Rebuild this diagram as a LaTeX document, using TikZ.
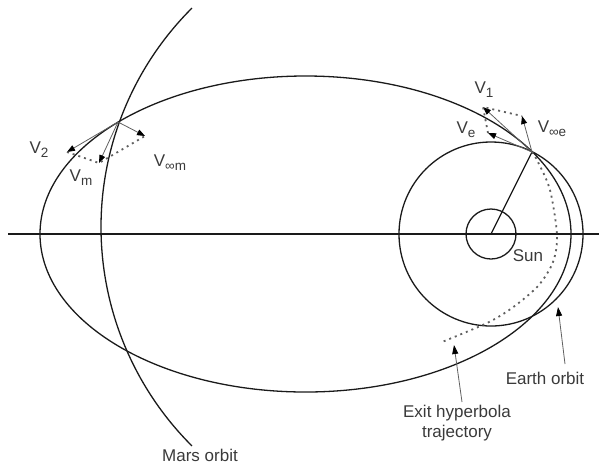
\documentclass[tikz,border=0pt]{standalone}
\usepackage{fontspec}
\setmainfont{Liberation Sans}
\usetikzlibrary{arrows.meta}
\definecolor{ink}{HTML}{1A1A1A}
\definecolor{txt}{HTML}{3A3A3A}
\definecolor{vec}{HTML}{606060}
\newcommand{\lowsub}[1]{\raisebox{-4pt}{\fontsize{13.5}{14}\selectfont #1}}
\begin{document}
\begin{tikzpicture}[x=1pt,y=-1pt,
  orbit/.style={draw=ink,line width=1.3pt},
  vecarrow/.style={draw=vec,line width=0.8pt,-{Triangle[length=8pt,width=6pt,color=black]}},
  labarrow/.style={draw=vec,line width=0.8pt,-{Triangle[length=9pt,width=6pt,color=black]}},
  dots/.style={draw=vec,line width=1.8pt,dash pattern=on 2pt off 4pt},
  lab/.style={text=txt,inner sep=0pt,font=\fontsize{17}{20}\selectfont}]
\useasboundingbox (0,0) rectangle (599,467);
% key points
\coordinate (sun) at (491,234);
\coordinate (ell) at (305.5,234);
\coordinate (mc) at (410,227);
\coordinate (pe) at (532,152);
\coordinate (pm) at (118,122);
\coordinate (hl) at (8,234);
\coordinate (hr) at (599,234);
% orbits
\draw[orbit] (hl) -- (hr);
\draw[orbit] (ell) ellipse [x radius=265.5pt, y radius=158pt];
\draw[orbit] (sun) circle [radius=92pt];
\draw[orbit] (sun) circle [radius=25pt];
\draw[orbit] (sun) -- (pe);
\draw[orbit] ([shift={(134.9:309pt)}]mc) arc[start angle=134.9, end angle=225.1, radius=309pt];
% exit hyperbola
\draw[dots] plot[smooth] coordinates {(532,152) (538,162) (550,190) (557,235) (553,262) (538,286) (512,308) (487,323) (442,342)};
% vectors at Mars
\coordinate (v2) at (67,152);
\coordinate (vm) at (99,163);
\coordinate (vinfm) at (145,136);
\draw[vecarrow] (pm) -- (v2);
\draw[vecarrow] (pm) -- (vm);
\draw[vecarrow] (pm) -- (vinfm);
\draw[dots] (v2) -- (vm) -- (vinfm);
% vectors at Earth
\coordinate (v1) at (483,107);
\coordinate (ve) at (488,133);
\coordinate (vinfe) at (522,116);
\draw[vecarrow] (pe) -- (v1);
\draw[vecarrow] (pe) -- (ve);
\draw[vecarrow] (pe) -- (vinfe);
\draw[dots] (ve) -- (v1) -- (vinfe);
% labels
\node[lab] (lv2) at (39,150) {V\lowsub{2}};
\node[lab] (lvm) at (81,178) {V\lowsub{m}};
\node[lab] (lvinfm) at (170,163) {V\lowsub{∞m}};
\node[lab] (lv1) at (484,90) {V\lowsub{1}};
\node[lab] (lve) at (466,130) {V\lowsub{e}};
\node[lab] (lvinfe) at (552,129) {V\lowsub{∞e}};
\node[lab] (lsun) at (528,256) {Sun};
\node[lab] (lmars) at (200,455) {Mars orbit};
\node[lab,align=center] (lexit) at (457,423) {Exit hyperbola\\trajectory};
\node[lab] (learth) at (545,378) {Earth orbit};
\coordinate (exitfoot) at (462,402);
\coordinate (exittip) at (454,345);
\coordinate (earthfoot) at (565,364);
\coordinate (earthtip) at (558,307);
\draw[labarrow] (exitfoot) -- (exittip);
\draw[labarrow] (earthfoot) -- (earthtip);
\end{tikzpicture}
\end{document}
